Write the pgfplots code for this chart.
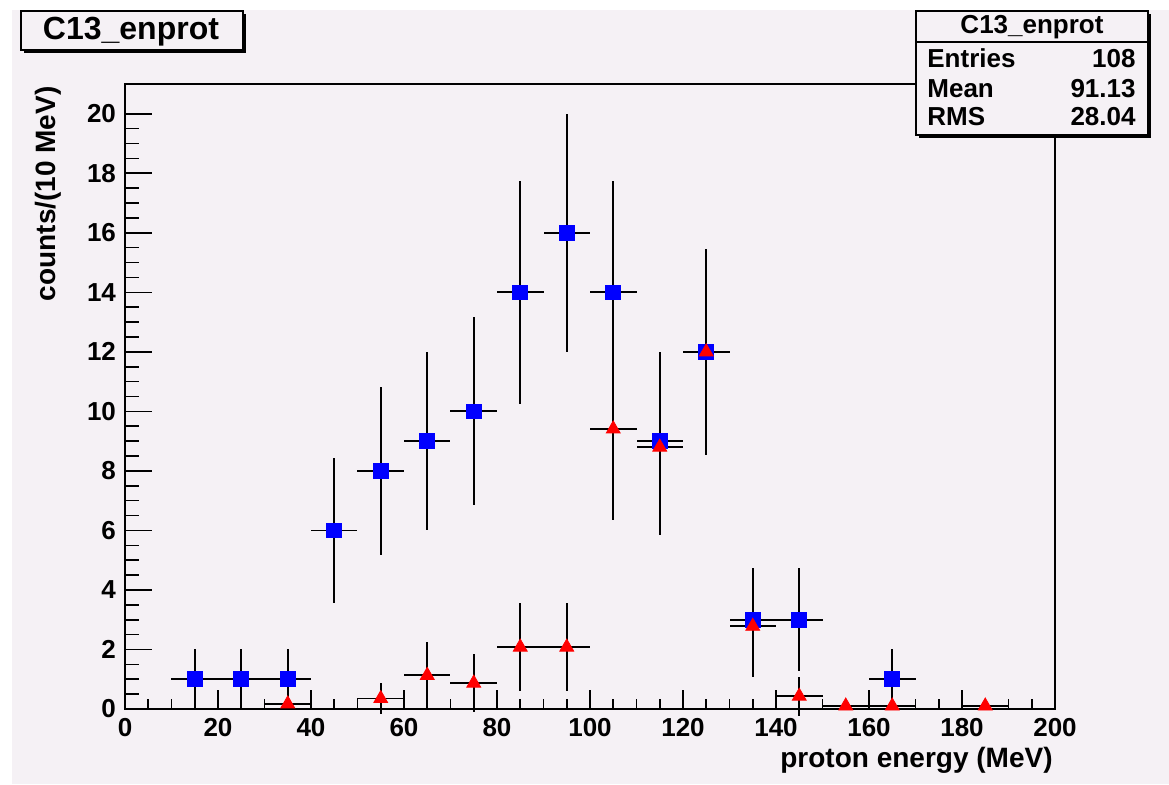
\documentclass[border=0pt]{standalone}
\usepackage{pgfplots}
\pgfplotsset{compat=1.18}
\usepackage{fontspec}
\setmainfont{Liberation Sans}
\definecolor{rootbg}{RGB}{245,241,245}
\newcommand{\tickfont}{\fontsize{13}{15}\selectfont\bfseries}

\begin{document}
\begin{tikzpicture}
% canvas, in pixels of the reference (0.5pt each), axis corner at (125,709)
\begin{scope}[x=0.5pt,y=-0.5pt,shift={(-125,-709)}]
  \fill[white] (0,0) rectangle (1169,784);
  \fill[rootbg] (12,10) rectangle (1169,784);
\end{scope}

% x ticks only
\begin{axis}[
  scale only axis, width=465pt, height=312.5pt,
  xmin=0, xmax=200, ymin=0, ymax=21,
  axis line style={draw=none},
  ytick=\empty,
  xtick={0,20,...,200}, minor x tick num=3,
  xtick pos=bottom, tick align=inside,
  major tick length=9.5pt, minor tick length=5pt,
  tick style={black, line width=0.8pt},
  xticklabel style={font=\tickfont, yshift=-1pt},
  /pgf/number format/assume math mode=true,
]
\end{axis}

% frame, y ticks and data
\begin{axis}[
  scale only axis, width=465pt, height=312.5pt,
  xmin=0, xmax=200, ymin=0, ymax=21,
  axis line style={black, line width=0.9pt},
  xtick=\empty,
  ytick={0,2,...,20}, minor y tick num=3,
  ytick pos=left, tick align=inside,
  major tick length=13.5pt, minor tick length=7pt,
  tick style={black, line width=0.8pt},
  yticklabel style={font=\tickfont, xshift=-1pt},
  /pgf/number format/assume math mode=true,
  clip=false,
]
% blue: all protons
\addplot[only marks, mark=square*, mark size=3.7pt, blue,
  mark options={draw=blue, fill=blue},
  error bars/.cd, x dir=both, x explicit, y dir=both, y explicit,
  error mark=none, error bar style={black, line width=0.9pt}]
coordinates {
 (15,1)  +- (5,1)
 (25,1)  +- (5,1)
 (35,1)  +- (5,1)
 (45,6)  +- (5,2.449)
 (55,8)  +- (5,2.828)
 (65,9)  +- (5,3)
 (75,10) +- (5,3.162)
 (85,14) +- (5,3.742)
 (95,16) +- (5,4)
 (105,14) +- (5,3.742)
 (115,9) +- (5,3)
 (125,12) +- (5,3.464)
 (135,3) +- (5,1.732)
 (145,3) +- (5,1.732)
 (165,1) +- (5,1)
};
% red
\addplot[only marks, mark=triangle*, mark size=4pt, red,
  mark options={draw=red, fill=red},
  error bars/.cd, x dir=both, x explicit, y dir=both, y explicit,
  error mark=none, error bar style={black, line width=0.9pt}]
coordinates {
 (35,0.17) +- (5,0.1)
 (55,0.35) +- (5,0.52)
 (65,1.13) +- (5,1.12)
 (75,0.87) +- (5,0.97)
 (85,2.08) +- (5,1.48)
 (95,2.08) +- (5,1.48)
 (105,9.41) +- (5,3.07)
 (115,8.8) +- (5,2.97)
 (125,12) +- (5,3.46)
 (135,2.78) +- (5,1.71)
 (145,0.43) +- (5,0.65)
 (155,0.1) +- (5,0.1)
 (165,0.1) +- (5,0.1)
 (185,0.1) +- (5,0.1)
};
\end{axis}

\begin{scope}[x=0.5pt,y=-0.5pt,shift={(-125,-709)}]
  % title box
  \fill[black] (24,14) rectangle (246,53);
  \filldraw[fill=rootbg, draw=black, line width=0.8pt] (21,11) rectangle (243,50);
  \node[font=\fontsize{16}{19}\selectfont\bfseries, anchor=base] at (131,39) {C13\_enprot};
  % stats box
  \fill[black] (919,14) rectangle (1151,138);
  \filldraw[fill=rootbg, draw=black, line width=0.8pt] (916,11) rectangle (1148,135);
  \draw[black, line width=0.8pt] (916,42) -- (1148,42);
  \begin{scope}[every node/.style={font=\fontsize{13}{15}\selectfont\bfseries, inner sep=0pt}]
    \node[anchor=base] at (1032,33) {C13\_enprot};
    \node[anchor=base west] at (927,67) {Entries};
    \node[anchor=base east] at (1136,67) {108};
    \node[anchor=base west] at (927,97) {Mean};
    \node[anchor=base east] at (1136,97) {91.13};
    \node[anchor=base west] at (927,125) {RMS};
    \node[anchor=base east] at (1136,125) {28.04};
  \end{scope}
  % axis titles
  \node[font=\fontsize{14}{16}\selectfont\bfseries, inner sep=0pt, rotate=90, anchor=base east] at (56,86) {counts/(10 MeV)};
  \node[font=\fontsize{14}{16}\selectfont\bfseries, inner sep=0pt, anchor=base east] at (1053,767) {proton energy (MeV)};
  \pgfresetboundingbox
  \path[use as bounding box] (0,0) rectangle (1169,784);
\end{scope}
\end{tikzpicture}
\end{document}
